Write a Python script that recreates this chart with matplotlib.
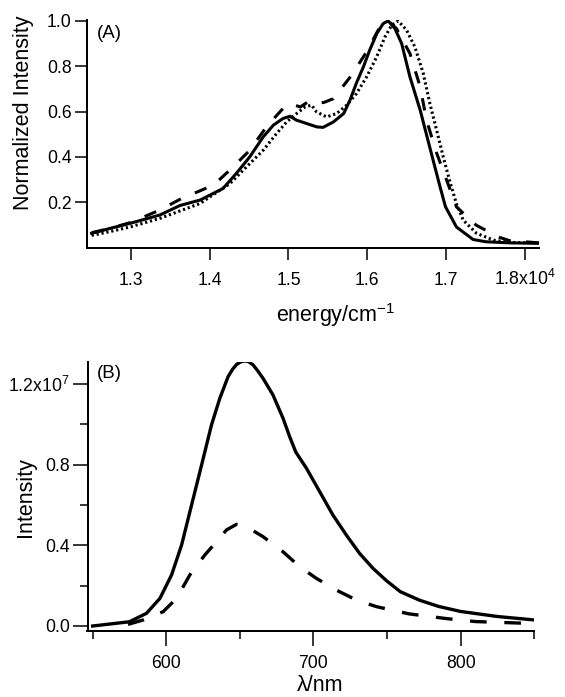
import matplotlib
matplotlib.use("Agg")
import matplotlib.pyplot as plt

plt.rcParams['font.family'] = ['Liberation Sans', 'DejaVu Sans']
plt.rcParams['mathtext.fontset'] = 'custom'
plt.rcParams['mathtext.rm'] = 'Liberation Sans'
plt.rcParams['mathtext.it'] = 'Liberation Sans:italic'
plt.rcParams['mathtext.default'] = 'rm'
plt.rcParams['lines.scale_dashes'] = False

# ---------------- Panel A data (energy in cm^-1, normalized intensity) -------------
a_solid_x = [12505, 12740, 12990, 13370, 13625, 13880, 14170, 14340, 14510, 14680,
             14810, 14930, 15020, 15100, 15230, 15360, 15440, 15570, 15700, 15780,
             15860, 15950, 16030, 16120, 16200, 16265, 16350, 16435, 16540, 16670,
             16790, 16920, 16990, 17130, 17340, 17500, 17800, 18180]
a_solid_y = [0.062, 0.084, 0.106, 0.143, 0.185, 0.209, 0.260, 0.327, 0.400, 0.488,
             0.540, 0.569, 0.579, 0.562, 0.547, 0.532, 0.530, 0.554, 0.591, 0.650,
             0.724, 0.797, 0.871, 0.944, 0.988, 1.000, 0.966, 0.900, 0.753, 0.606,
             0.444, 0.270, 0.180, 0.090, 0.035, 0.025, 0.020, 0.018]

a_dash_x = [12505, 12750, 13000, 13370, 13640, 14050, 14280, 14510, 14720, 14930,
            15020, 15150, 15250, 15314, 15450, 15570, 15800, 15990, 16160, 16265,
            16370, 16540, 16670, 16750, 16880, 17005, 17130, 17380, 17670, 17800, 18180]
a_dash_y = [0.065, 0.085, 0.110, 0.165, 0.215, 0.275, 0.349, 0.429, 0.532, 0.613,
            0.635, 0.620, 0.643, 0.635, 0.640, 0.657, 0.760, 0.863, 0.974, 1.000,
            0.966, 0.856, 0.709, 0.562, 0.415, 0.297, 0.179, 0.098, 0.045, 0.030, 0.020]

a_dot_x = [12505, 12740, 12990, 13370, 13880, 14259, 14470, 14680, 14850, 14977,
           15104, 15209, 15294, 15357, 15484, 15611, 15738, 15864, 15991, 16118,
           16223, 16308, 16392, 16498, 16603, 16709, 16793, 16878, 16962, 17047,
           17132, 17216, 17385, 17600, 17800, 18180]
a_dot_y = [0.053, 0.070, 0.090, 0.128, 0.194, 0.282, 0.356, 0.429, 0.503, 0.554,
           0.591, 0.620, 0.628, 0.598, 0.576, 0.591, 0.628, 0.680, 0.753, 0.841,
           0.929, 0.981, 1.000, 0.959, 0.885, 0.768, 0.635, 0.518, 0.400, 0.290,
           0.190, 0.120, 0.062, 0.032, 0.022, 0.020]

a_xticks = [13000, 14000, 15000, 16000, 17000, 18000]
a_xticklabels = ['1.3', '1.4', '1.5', '1.6', '1.7', '1.8x10$^{4}$']
a_yticks = [0.2, 0.4, 0.6, 0.8, 1.0]
a_yticklabels = ['0.2', '0.4', '0.6', '0.8', '1.0']

# ---------------- Panel B data (wavelength in nm, intensity) -----------------------
b_solid_x = [550, 575, 586.6, 595.7, 603.6, 610.4, 617.2, 624, 630.7, 636.4, 642,
             645, 647.7, 650.5, 653.3, 656, 659, 662, 665.7, 672.5, 679.3, 684,
             688, 695.2, 704.2, 713.2, 722.3, 731.3, 740.4, 749.5, 759, 772, 785,
             800, 825, 850]
b_solid_y = [0.0e7, 0.021e7, 0.063e7, 0.137e7, 0.253e7, 0.401e7, 0.600e7, 0.798e7,
             0.996e7, 1.129e7, 1.236e7, 1.272e7, 1.296e7, 1.309e7, 1.314e7, 1.310e7,
             1.294e7, 1.266e7, 1.228e7, 1.145e7, 1.030e7, 0.935e7, 0.862e7, 0.782e7,
             0.666e7, 0.550e7, 0.451e7, 0.360e7, 0.286e7, 0.225e7, 0.170e7, 0.128e7,
             0.097e7, 0.072e7, 0.047e7, 0.030e7]

b_dash_x = [574, 584.4, 597.9, 607, 616, 626.2, 634.1, 640.9, 647.7, 654.5, 665.7,
            679.3, 690.6, 702, 715.5, 729.1, 742.7, 765, 790, 810, 842]
b_dash_y = [0.008e7, 0.030e7, 0.071e7, 0.137e7, 0.253e7, 0.352e7, 0.418e7, 0.476e7,
            0.504e7, 0.492e7, 0.443e7, 0.368e7, 0.294e7, 0.236e7, 0.178e7, 0.129e7,
            0.096e7, 0.060e7, 0.037e7, 0.022e7, 0.014e7]

b_xticks = [600, 700, 800]
b_xticklabels = ['600', '700', '800']
b_xminor = [550, 650, 750, 850]
b_yticks = [0.0, 0.4e7, 0.8e7, 1.2e7]
b_yticklabels = ['0.0', '0.4', '0.8', '1.2x10$^{7}$']
b_yminor = [0.2e7, 0.6e7, 1.0e7]

# ---------------- figure ----------------------------------------------------------
W, H = 565, 697
fig = plt.figure(figsize=(W / 100, H / 100), dpi=100)


def rect(l, t, r, b):
    return [l / W, 1 - b / H, (r - l) / W, (b - t) / H]


TICK_FS = 12.7
LABEL_FS = 15.5
SPINE_LW = 1.44

# Panel A
axA = fig.add_axes(rect(87.3, 20.0, 539.3, 248.3))
axA.plot(a_solid_x, a_solid_y, color='black', lw=2.2, solid_joinstyle='round')
axA.plot(a_dash_x, a_dash_y, color='black', lw=2.2, linestyle=(0, (9, 11)),
         dash_capstyle='butt')
axA.plot(a_dot_x, a_dot_y, color='black', lw=2.2, linestyle=(0, (1.6, 2.0)),
         dash_capstyle='butt')
axA.set_xlim(12450, 18180)
axA.set_ylim(-0.004, 1.004)
axA.set_xticks(a_xticks)
axA.set_xticklabels(a_xticklabels)
axA.set_yticks(a_yticks)
axA.set_yticklabels(a_yticklabels)
axA.tick_params(axis='x', direction='out', length=8.6, width=1.1, pad=17.8,
                labelsize=TICK_FS)
axA.tick_params(axis='y', direction='out', length=9.0, width=1.1, pad=2.2,
                labelsize=TICK_FS)
for lab in axA.get_xticklabels():
    lab.set_verticalalignment('baseline')

# Panel B
axB = fig.add_axes(rect(87.5, 361.7, 534.3, 630.7))
axB.plot(b_solid_x, b_solid_y, color='black', lw=2.4, solid_joinstyle='round')
axB.plot(b_dash_x, b_dash_y, color='black', lw=2.4, linestyle=(0, (12, 12.7)),
         dash_capstyle='butt')
axB.set_xlim(546.5, 850)
axB.set_ylim(-0.0233e7, 1.31e7)
axB.set_xticks(b_xticks)
axB.set_xticklabels(b_xticklabels)
axB.set_xticks(b_xminor, minor=True)
axB.set_yticks(b_yticks)
axB.set_yticklabels(b_yticklabels)
axB.set_yticks(b_yminor, minor=True)
axB.tick_params(axis='both', which='major', direction='out', length=10.8,
                width=1.1, labelsize=TICK_FS)
axB.tick_params(axis='both', which='minor', direction='out', length=5.5, width=1.1)
axB.tick_params(axis='x', which='major', pad=16.3)
axB.tick_params(axis='y', which='major', pad=2.0)
for lab in axB.get_xticklabels():
    lab.set_verticalalignment('baseline')

for ax in (axA, axB):
    for s in ('top', 'right'):
        ax.spines[s].set_visible(False)
    for s in ('left', 'bottom'):
        ax.spines[s].set_linewidth(SPINE_LW)
    ax.patch.set_alpha(0)

# axis labels and panel tags (positions in pixels)
def ftext(x, y, s, **kw):
    fig.text(x / W, 1 - y / H, s, **kw)

ftext(24, 113, 'Normalized Intensity', rotation=90, ha='center', va='center',
      fontsize=LABEL_FS)
ftext(25, 497, 'Intensity', rotation=90, ha='center', va='center', fontsize=LABEL_FS)
ftext(276, 321.7, 'energy/cm$^{-1}$', ha='left', va='baseline', fontsize=LABEL_FS)
ftext(297, 691, 'λ/nm', ha='left', va='baseline', fontsize=LABEL_FS)
ftext(97, 38.3, '(A)', ha='left', va='baseline', fontsize=13.5)
ftext(97, 378, '(B)', ha='left', va='baseline', fontsize=13.5)

fig.savefig('out.png', dpi=100)
